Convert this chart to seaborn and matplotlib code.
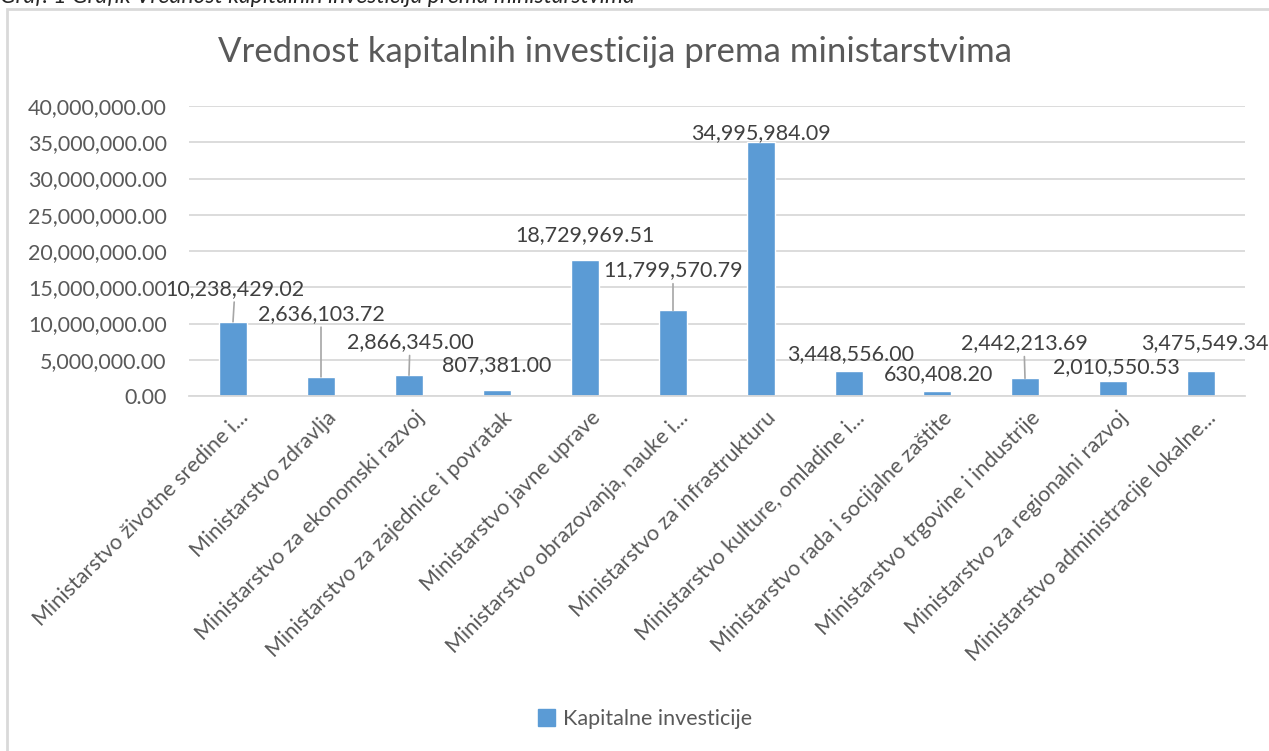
import pandas as pd
import matplotlib
matplotlib.use("Agg")
import matplotlib.pyplot as plt
import matplotlib.transforms as mtransforms
from matplotlib.patches import Patch, Rectangle
from matplotlib.ticker import FuncFormatter, MultipleLocator
import seaborn as sns

# Data
ministries = [
    "Ministarstvo životne sredine i...",
    "Ministarstvo zdravlja",
    "Ministarstvo za ekonomski razvoj",
    "Ministarstvo za zajednice i povratak",
    "Ministarstvo javne uprave",
    "Ministarstvo obrazovanja, nauke i...",
    "Ministarstvo za infrastrukturu",
    "Ministarstvo kulture, omladine i...",
    "Ministarstvo rada i socijalne zaštite",
    "Ministarstvo trgovine i industrije",
    "Ministarstvo za regionalni razvoj",
    "Ministarstvo administracije lokalne...",
]
investments = [
    10238429.02, 2636103.72, 2866345.00, 807381.00, 18729969.51, 11799570.79,
    34995984.09, 3448556.00, 630408.20, 2442213.69, 2010550.53, 3475549.34,
]
series_name = "Kapitalne investicije"
chart_title = "Vrednost kapitalnih investicija prema ministarstvima"
caption = "Graf. 1 Grafik Vrednost kapitalnih investicija prema ministarstvima"

# Data-label placement (pixels above bar top) and which labels get a leader line
label_lift = [33, 63, 33, 25, 25, 40, 9, 17, 17, 35, 14, 28]
label_shift = [2, 0, 1, 0, 0, 0, 0, 2, 2, -1, 3, 4]
has_leader = [True, True, True, False, False, True, False, False, False, True, False, False]

BAR = "#5b9bd5"
GRID = "#d9d9d9"
TXT = "#595959"
LBL = "#404040"
FS = 15.5

sns.set_style("white")
plt.rcParams["font.family"] = ["Lato", "DejaVu Sans"]

df = pd.DataFrame({"ministry": ministries, "value": investments})

fig = plt.figure(figsize=(12.69, 7.51), dpi=100)
ax = fig.add_axes([189 / 1269, 1 - 396 / 751, (1245 - 189) / 1269, (396 - 106) / 751])

sns.barplot(data=df, x="ministry", y="value", color=BAR, saturation=1,
            width=0.32, ax=ax)

ax.set_ylim(0, 40_000_000)
ax.set_xlim(-0.5, len(ministries) - 0.5)
ax.yaxis.set_major_locator(MultipleLocator(5_000_000))
ax.yaxis.set_major_formatter(FuncFormatter(lambda v, p: f"{v:,.2f}"))
ax.grid(axis="y", color=GRID, linewidth=1.3)
ax.set_axisbelow(True)
for s in ["top", "right", "left"]:
    ax.spines[s].set_visible(False)
ax.spines["bottom"].set_color(GRID)
ax.spines["bottom"].set_linewidth(1.3)
ax.set_xlabel("")
ax.set_ylabel("")
ax.tick_params(axis="y", length=0, pad=16, labelsize=FS, labelcolor=TXT)
ax.tick_params(axis="x", length=0, pad=4, labelsize=FS, labelcolor=TXT)

offset = mtransforms.ScaledTranslation(5 / 100, -6 / 100, fig.dpi_scale_trans)
for lab in ax.get_xticklabels():
    lab.set_rotation(45)
    lab.set_ha("right")
    lab.set_va("top")
    lab.set_rotation_mode("anchor")
    lab.set_transform(lab.get_transform() + offset)

# Data labels, some with Excel-style leader lines
for i, v in enumerate(investments):
    arrow = dict(arrowstyle="-", color="#a6a6a6", lw=1.2, shrinkA=0, shrinkB=0) if has_leader[i] else None
    ax.annotate(f"{v:,.2f}", xy=(i, v), xytext=(label_shift[i], label_lift[i]),
                textcoords="offset pixels", ha="center", va="center",
                fontsize=FS, color=LBL, arrowprops=arrow, annotation_clip=False)

fig.text(615 / 1269, 1 - 52 / 751, chart_title, ha="center", va="center",
         fontsize=25, color=TXT)

fig.legend(handles=[Patch(facecolor=BAR, edgecolor=BAR, label=series_name)],
           loc="center", bbox_to_anchor=(645 / 1269, 1 - 719 / 751), frameon=False,
           fontsize=FS, labelcolor=TXT, handlelength=0.8, handleheight=0.8,
           handletextpad=0.4)

# Chart frame (only left and top edges visible) and clipped caption above it
fig.patches.append(Rectangle((7 / 1269, -0.1), 1.2, 1 - 9 / 751 + 0.1,
                             transform=fig.transFigure, fill=False,
                             edgecolor=GRID, linewidth=2))
fig.text(0.0, 1 - 3 / 751, caption, ha="left", va="baseline", fontsize=16.5,
         style="italic", color="#262626")

fig.savefig("out.png", dpi=100)
